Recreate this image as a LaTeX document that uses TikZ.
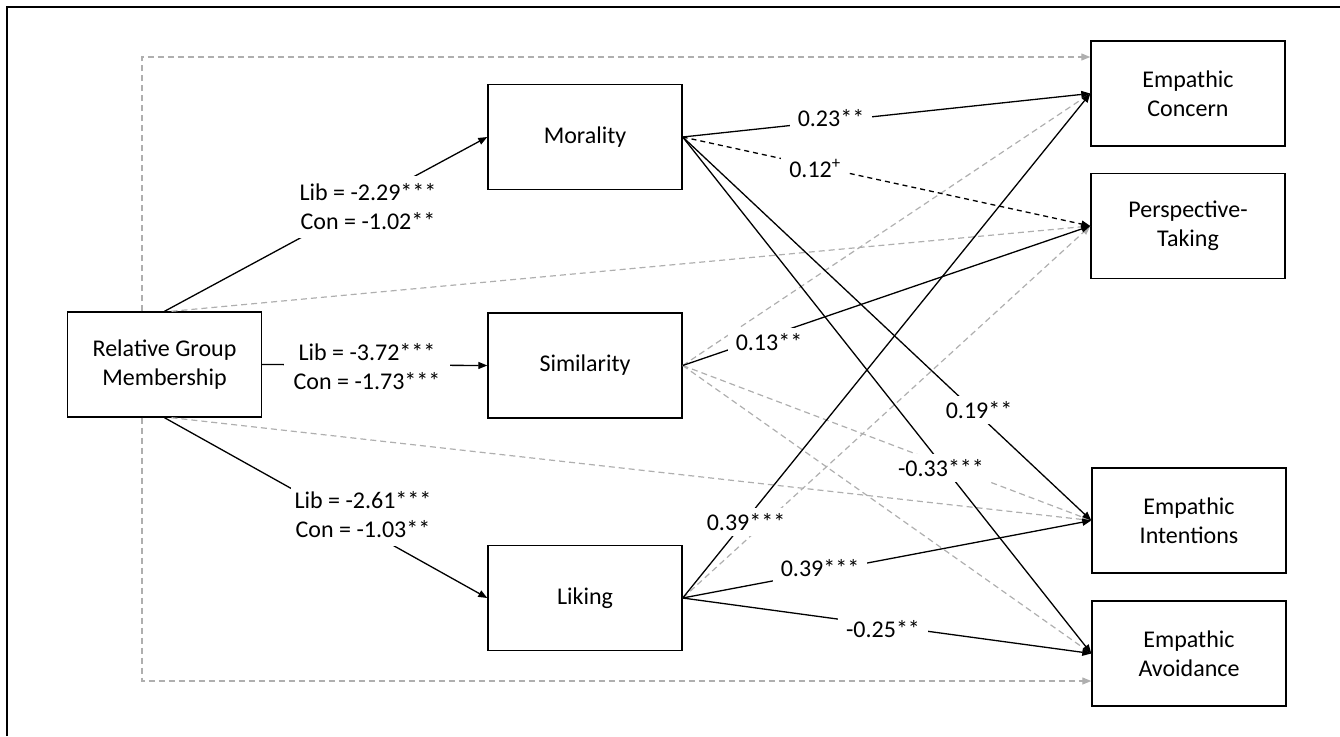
\documentclass[tikz,border=0pt]{standalone}
\usepackage{fontspec}
\setmainfont{Carlito}
\usetikzlibrary{arrows.meta}
\definecolor{dgrey}{RGB}{175,175,175}
\begin{document}
\begin{tikzpicture}[x=1pt,y=-1pt,
  txt/.style={font=\fontsize{24}{29}\selectfont},
  box/.style={txt, draw, line width=1.4pt, minimum width=194pt, minimum height=105pt, align=center, inner sep=0pt},
  lab/.style={txt, fill=white, inner xsep=8pt, inner ysep=5pt, align=center},
  biglab/.style={lab, inner xsep=4pt, inner ysep=8pt},
  tip/.style={-{Triangle[length=9pt,width=7pt]}},
  sol/.style={tip, line width=1.3pt},
  bdash/.style={tip, line width=1.3pt, dash pattern=on 5pt off 4pt},
  gdash/.style={tip, dgrey, line width=1.2pt, dash pattern=on 6pt off 4pt},
]
\useasboundingbox (0,0) rectangle (1340,736);
\draw[line width=1.3pt] (7,736) -- (7,7) -- (1340,7);

% nodes
\node[box] (RGM) at (164.5,364.5) {Relative Group\\Membership};
\node[box] (Mor) at (585,137) {Morality};
\node[box] (Sim) at (585,365.5) {Similarity};
\node[box] (Lik) at (585,598) {Liking};
\node[box] (EC) at (1188,93.5) {Empathic\\Concern};
\node[box] (PT) at (1188,226) {Perspective-\\Taking};
\node[box] (EI) at (1189,520.5) {Empathic\\Intentions};
\node[box] (EA) at (1189,653.5) {Empathic\\Avoidance};

\coordinate (gt) at (142,57);
\coordinate (gb) at (142,681);

% grey dashed (non-significant) paths
\draw[gdash] (RGM.north -| gt) -- (gt) -- (gt -| EC.west);
\draw[gdash] (RGM.south -| gb) -- (gb) -- (gb -| EA.west);
\draw[gdash] ([xshift=7pt]RGM.north) -- (PT.west);
\draw[gdash] ([xshift=7pt]RGM.south) -- (EI.west);
\draw[gdash] (Sim.east) -- (EC.west);
\draw[gdash] (Sim.east) -- (EI.west);
\draw[gdash] (Sim.east) -- (EA.west);
\draw[gdash] (Lik.east) -- (PT.west);

% solid paths
\draw[sol] (RGM.north) -- (Mor.west);
\draw[sol] (RGM.east) -- (Sim.west);
\draw[sol] (RGM.south) -- (Lik.west);
\draw[sol] (Mor.east) -- (EC.west);
\draw[bdash] (Mor.east) -- (PT.west);
\draw[sol] (Mor.east) -- (EI.west);
\draw[sol] (Mor.east) -- (EA.west);
\draw[sol] (Sim.east) -- (PT.west);
\draw[sol] (Lik.east) -- (EC.west);
\draw[sol] (Lik.east) -- (EI.west);
\draw[sol] (Lik.east) -- (EA.west);

% labels
\node[biglab] (l1) at (368,207) {Lib = -2.29***\\Con = -1.02**};
\node[biglab, inner xsep=10pt] (l2) at (367,367) {Lib = -3.72***\\Con = -1.73***};
\node[biglab] (l3) at (363,515) {Lib = -2.61***\\Con = -1.03**};
\node[lab] (l4) at (831,118) {0.23**};
\node[lab] (l5) at (815,168) {0.12\textsuperscript{+}};
\node[lab] (l6) at (769,342) {0.13**};
\node[lab] (l7) at (979,410) {0.19**};
\node[lab] (l8) at (941,468) {-0.33***};
\node[lab] (l9) at (746,522) {0.39***};
\node[lab] (l10) at (820,568) {0.39***};
\node[lab] (l11) at (883,629) {-0.25**};
\end{tikzpicture}
\end{document}
